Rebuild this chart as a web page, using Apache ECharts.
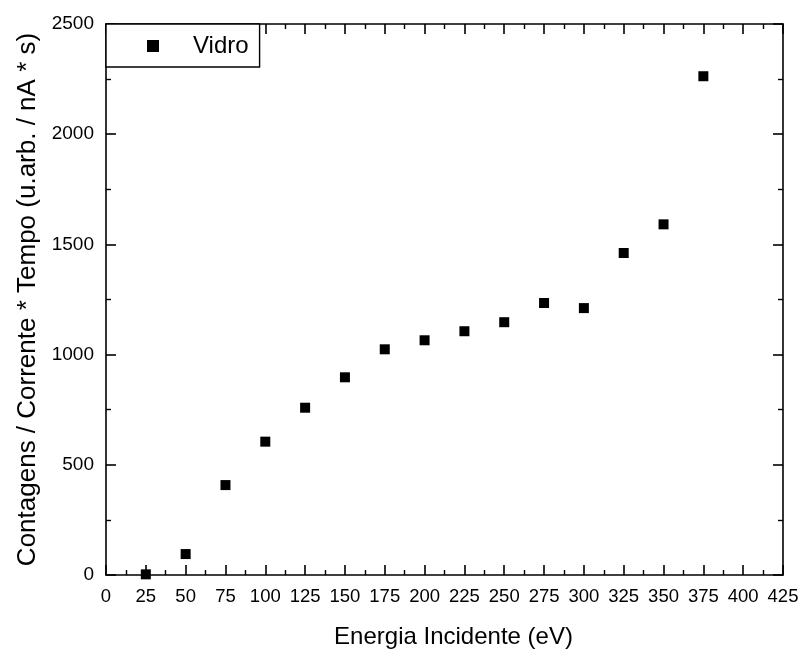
<!DOCTYPE html>
<html>
<head>
<meta charset="utf-8">
<script src="https://cdn.jsdelivr.net/npm/echarts@6/dist/echarts.min.js"></script>
<style>html,body{margin:0;padding:0;background:#fff}#c{width:804px;height:656px}</style>
</head>
<body>
<div id="c"></div>
<script>
const energies = [25, 50, 75, 100, 125, 150, 175, 200, 225, 250, 275, 300, 325, 350, 375];
const counts = [3, 95, 408, 605, 759, 897, 1024, 1065, 1106, 1147, 1234, 1211, 1461, 1591, 2263];
const seriesName = 'Vidro';
const xTitle = 'Energia Incidente (eV)';
const yTitle = 'Contagens / Corrente * Tempo (u.arb. / nA * s)';

const font = 'Arial, "Liberation Sans", sans-serif';
const chart = echarts.init(document.getElementById('c'), null, {renderer: 'canvas'});
const lineStyle = {color: '#000', width: 1.6};
const baseAxis = {
  axisLine: {show: true, onZero: false, lineStyle: lineStyle},
  axisTick: {show: true, inside: true, length: 10, lineStyle: lineStyle},
  minorTick: {show: true, splitNumber: 2, length: 5, lineStyle: {color: '#000', width: 1.4}},
  splitLine: {show: false}
};
const plain = v => String(v);
chart.setOption({
  animation: false,
  backgroundColor: '#fff',
  grid: {left: 106, top: 24, right: 21, bottom: 81, containLabel: false, outerBoundsMode: 'none'},
  legend: {
    data: [{name: seriesName, icon: 'rect'}],
    left: 106, top: 24,
    padding: [10, 11, 9, 41],
    itemWidth: 12, itemHeight: 12, itemGap: 0,
    borderColor: '#000', borderWidth: 1.4, borderRadius: 0,
    backgroundColor: '#fff',
    textStyle: {fontFamily: font, fontSize: 24, color: '#000', padding: [0, 0, 0, 29]}
  },
  xAxis: [
    Object.assign({}, baseAxis, {
      type: 'value', min: 0, max: 425, interval: 25, position: 'bottom',
      name: xTitle, nameLocation: 'middle', nameGap: 50,
      nameTextStyle: {fontFamily: font, fontSize: 24, color: '#000', padding: [0, 0, 0, 18]},
      axisLabel: {fontFamily: font, fontSize: 18.5, color: '#000', margin: 12, formatter: plain}
    }),
    Object.assign({}, baseAxis, {
      type: 'value', min: 0, max: 425, interval: 25, position: 'top',
      axisLabel: {show: false}
    })
  ],
  yAxis: [
    Object.assign({}, baseAxis, {
      type: 'value', min: 0, max: 2500, interval: 500, position: 'left',
      name: yTitle, nameLocation: 'middle', nameGap: 64,
      nameTextStyle: {fontFamily: font, fontSize: 26, color: '#000'},
      axisLabel: {fontFamily: font, fontSize: 19, color: '#000', margin: 12, formatter: plain}
    }),
    Object.assign({}, baseAxis, {
      type: 'value', min: 0, max: 2500, interval: 500, position: 'right',
      axisLabel: {show: false}
    })
  ],
  series: [{
    name: seriesName,
    type: 'scatter',
    xAxisIndex: 0, yAxisIndex: 0,
    symbol: 'rect', symbolSize: 10,
    itemStyle: {color: '#000', opacity: 1},
    data: energies.map((e, i) => [e, counts[i]])
  }]
});
</script>
</body>
</html>
